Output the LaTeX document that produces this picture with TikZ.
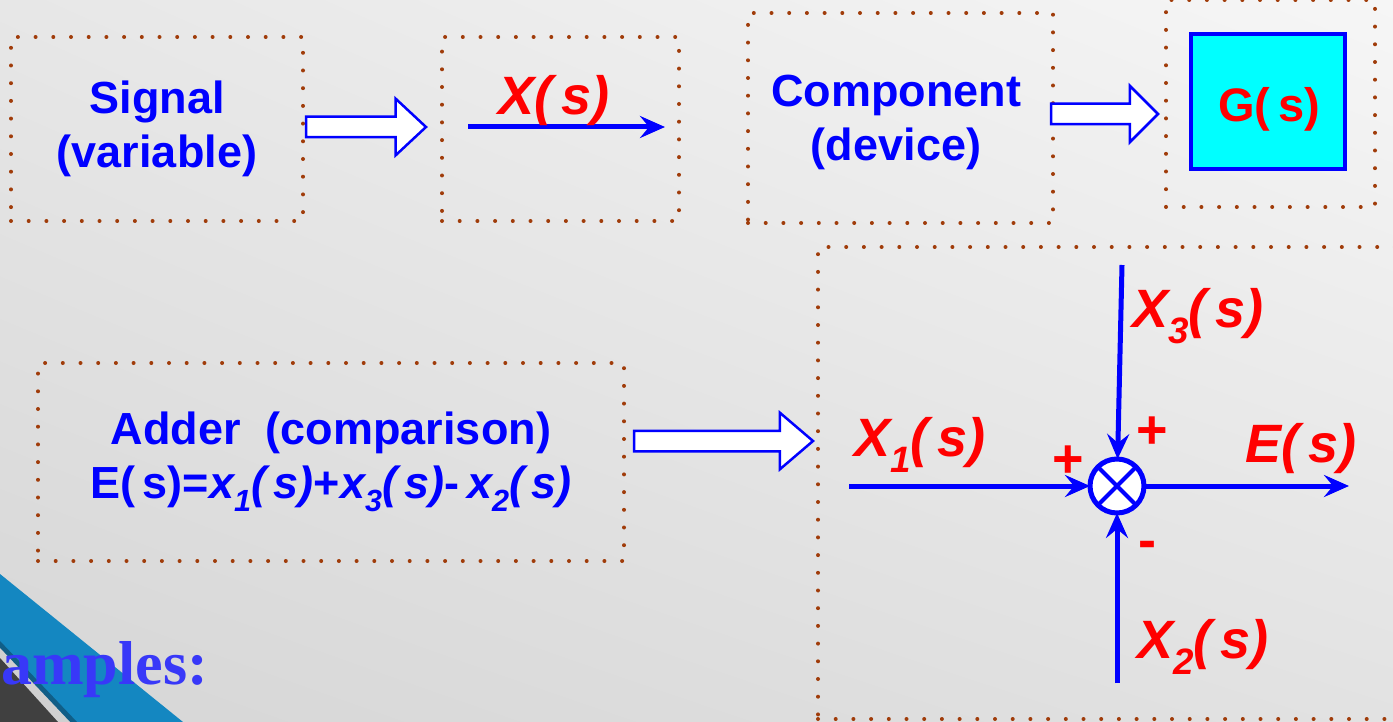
\documentclass[tikz,border=0pt]{standalone}
\usepackage{fontspec}
\setmainfont{Liberation Serif}
\setsansfont{Liberation Sans}
\usepackage{graphicx}
\usepackage{xcolor}
\usetikzlibrary{arrows.meta,shapes.arrows,shadings}
\definecolor{dotbrown}{RGB}{160,60,10}
\definecolor{boxcyan}{RGB}{0,255,255}
\definecolor{bandblue}{RGB}{20,135,193}
\definecolor{bandedge}{RGB}{16,94,135}
\definecolor{bandgray}{RGB}{64,64,64}
\definecolor{bandlight}{RGB}{208,208,208}
\definecolor{headblue}{RGB}{56,56,248}
\definecolor{bgul}{RGB}{231,231,231}
\definecolor{bgur}{RGB}{246,246,246}
\definecolor{bgll}{RGB}{214,214,214}
\definecolor{bglr}{RGB}{226,226,226}
\newcommand{\lowsub}[1]{\raisebox{-.3em}{\scalebox{.68}{#1}}}
\tikzset{
	dotbox/.style={
			draw=dotbrown, line width=4pt, line cap=round,
			dash pattern=on 0pt off 17.7pt,
			inner sep=0pt, outer sep=0pt, align=center, text=blue,
			font=\sffamily\bfseries\fontsize{45}{54}\selectfont
		},
	fatarrow/.style={
			single arrow, draw=blue, fill=white, line width=2.5pt,
			inner xsep=0pt, inner ysep=9pt, outer sep=0pt,
			single arrow head extend=18pt, anchor=tail
		},
	flow/.style={draw=blue, line width=5pt, -{Stealth[length=25pt,width=22pt,inset=9pt]}},
	varlabel/.style={text=red, inner sep=0pt, anchor=base west,
			font=\sffamily\bfseries\itshape\fontsize{54}{54}\selectfont},
	sign/.style={text=red, inner sep=0pt,
			font=\sffamily\bfseries\fontsize{54}{54}\selectfont}
}
\begin{document}
\begin{tikzpicture}[x=1pt,y=-1pt]
	% page
	\useasboundingbox (0,0) rectangle (1393,722);
	\clip (0,0) rectangle (1393,722);
	\shade[upper left=bgul, upper right=bgur, lower left=bgll, lower right=bglr] (0,0) rectangle (1393,722);

	% corner decoration
	\fill[bandblue] (0,574) -- (183,722) -- (0,722) -- cycle;
	\fill[bandedge] (0,641) -- (77,722) -- (0,722) -- cycle;
	\fill[bandlight] (0,648) -- (70,722) -- (0,722) -- cycle;
	\fill[bandgray] (0,658) -- (58,722) -- (0,722) -- cycle;
	\node[text=headblue, inner sep=0pt, anchor=base west,
		font=\rmfamily\bfseries\fontsize{62}{62}\selectfont] (heading) at (1,684) {amples:};

	% dotted frames
	\node[dotbox, minimum width=292pt, minimum height=184pt] (signal) at (157,129) {Signal\\(variable)};
	\node[dotbox, minimum width=237pt, minimum height=184pt] (sigbox) at (560.5,129) {};
	\node[dotbox, minimum width=305pt, minimum height=210pt] (comp) at (900.5,118) {};
	\node[dotbox, draw=none] (comptext) at (896,122) {Component\\(device)};
	\node[dotbox, minimum width=209pt, minimum height=207pt] (compbox) at (1270.5,103.5) {};
	\node[dotbox, minimum width=586pt, minimum height=198pt] (adder) at (331,462)
		{Adder\ \ (comparison)\\E(\,s)=\textit{x\lowsub{1}(\,s)}+\textit{x\lowsub{3}(\,s)}-\,\textit{x\lowsub{2}(\,s)}};
	\node[dotbox, minimum width=610pt, minimum height=472pt] (addbox) at (1123,483) {};

	% hollow arrows
	\node[fatarrow, minimum height=120pt, single arrow tip angle=86] (arrA) at (306,127) {};
	\node[fatarrow, minimum height=107pt, single arrow tip angle=90] (arrB) at (1051,114) {};
	\node[fatarrow, minimum height=179pt, single arrow tip angle=81] (arrC) at (634,441) {};

	% signal
	\coordinate (xin) at (468,127);
	\coordinate (xout) at (665,127);
	\draw[flow] (xin) -- (xout);
	\node[varlabel] (xs) at (498,115) {X(\,s)};

	% component
	\node[draw=blue, line width=4pt, fill=boxcyan, inner sep=0pt,
		minimum width=154pt, minimum height=135pt] (gs) at (1268,101.5) {};
	\node[text=red, inner sep=0pt,
		font=\sffamily\bfseries\fontsize{47}{47}\selectfont] (gtext) at (1269,109) {G(\,s)};

	% adder
	\coordinate (xone) at (849,486);
	\coordinate (xthree) at (1122,265);
	\coordinate (xtwo) at (1117,683);
	\coordinate (eout) at (1349,486);
	\node[circle, draw=blue, fill=white, line width=5pt, minimum size=54pt,
		inner sep=0pt, outer sep=0pt] (sum) at (1117,486) {};
	\draw[blue, line width=4pt] (sum.north east) -- (sum.south west)
		(sum.north west) -- (sum.south east);
	\draw[flow] (xone) -- (sum);
	\draw[flow] (xthree) -- (sum);
	\draw[flow] (xtwo) -- (sum);
	\draw[flow] (sum) -- (eout);

	\node[varlabel] (xones) at (854,456) {X\lowsub{1}(\,s)};
	\node[varlabel] (xthrees) at (1132,327) {X\lowsub{3}(\,s)};
	\node[varlabel] (xtwos) at (1137,658) {X\lowsub{2}(\,s)};
	\node[varlabel] (es) at (1245,462) {E(\,s)};
	\node[sign] (plusone) at (1068,462) {+};
	\node[sign] (plusthree) at (1152,433) {+};
	\node[sign] (minustwo) at (1147,550) {-};
\end{tikzpicture}
\end{document}
